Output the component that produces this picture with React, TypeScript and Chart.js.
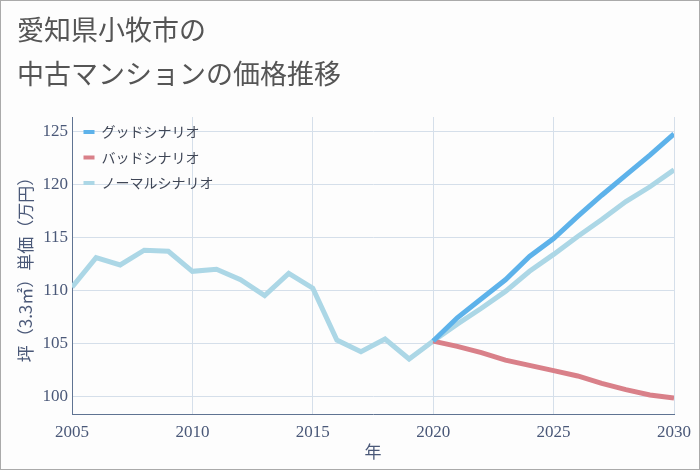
import React, { useEffect, useRef } from "react";
import { Chart, registerables } from "chart.js";

Chart.register(...registerables);

const titleLines = ["愛知県小牧市の", "中古マンションの価格推移"];
const years = [
  2005, 2006, 2007, 2008, 2009, 2010, 2011, 2012, 2013, 2014, 2015, 2016, 2017,
  2018, 2019, 2020, 2021, 2022, 2023, 2024, 2025, 2026, 2027, 2028, 2029, 2030,
];
const seriesNames = ["グッドシナリオ", "バッドシナリオ", "ノーマルシナリオ"];
const goodValues = [
  null, null, null, null, null, null, null, null, null, null, null, null, null,
  null, null, 105.2, 107.4, 109.2, 111.0, 113.2, 114.9, 117.0, 119.0, 120.9,
  122.8, 124.8,
];
const badValues = [
  null, null, null, null, null, null, null, null, null, null, null, null, null,
  null, null, 105.2, 104.7, 104.1, 103.4, 102.9, 102.4, 101.9, 101.2, 100.6,
  100.1, 99.8,
];
const normalValues = [
  110.3, 113.1, 112.4, 113.8, 113.7, 111.8, 112.0, 111.0, 109.5, 111.6, 110.2,
  105.3, 104.2, 105.4, 103.5, 105.2, 106.8, 108.3, 109.9, 111.8, 113.4, 115.1,
  116.7, 118.4, 119.8, 121.4,
];
const yTickValues = [100, 105, 110, 115, 120, 125];
const xTickValues = [2005, 2010, 2015, 2020, 2025, 2030];
const yTitle = "坪（3.3㎡）単価（万円）";
const xTitle = "年";

const colors = ["#5db2ea", "#d98089", "#acd7e6"];
const tickColor = "#4a5878";
const gridColor = "#d5dfea";
const axisColor = "#5f7392";
const sansFont = '"Noto Sans CJK JP", "Noto Sans", sans-serif';
const serifFont = '"Liberation Serif", "DejaVu Serif", serif';

const toPoints = (vals: (number | null)[]) =>
  years.map((y, i) => ({ x: y, y: vals[i] }));

const bgTitlePlugin = {
  id: "bgTitle",
  beforeDraw(chart: any) {
    const ctx = chart.ctx;
    ctx.save();
    ctx.fillStyle = "#fdfdfd";
    ctx.fillRect(0, 0, chart.width, chart.height);
    ctx.font = `27px ${sansFont}`;
    ctx.fillStyle = "#555555";
    ctx.textBaseline = "alphabetic";
    ctx.textAlign = "left";
    ctx.fillText(titleLines[0], 16, 39);
    ctx.fillText(titleLines[1], 16, 82.5);
    ctx.restore();
  },
  afterLayout(chart: any) {
    const lg = chart.legend;
    if (lg) {
      const h = lg.height;
      lg.top = chart.chartArea.top - 3.5;
      lg.bottom = lg.top + h;
      lg.left = chart.chartArea.left;
    }
  },
};

export default function App() {
  const ref = useRef<HTMLCanvasElement | null>(null);
  useEffect(() => {
    document.body.style.margin = "0";
    if (!ref.current) return;
    const datasets = [goodValues, badValues, normalValues].map((vals, i) => ({
      label: seriesNames[i],
      data: toPoints(vals),
      borderColor: colors[i],
      backgroundColor: colors[i],
      borderWidth: 5,
      pointRadius: 0,
      tension: 0,
      spanGaps: false,
    }));
    const chart = new Chart(ref.current, {
      type: "line",
      data: { datasets },
      plugins: [bgTitlePlugin],
      options: {
        animation: false,
        responsive: false,
        layout: { padding: { top: 116, right: 24, bottom: 0, left: 0 } },
        plugins: {
          title: { display: false },
          tooltip: { enabled: false },
          legend: {
            position: "chartArea",
            align: "start",
            labels: {
              boxWidth: 11,
              boxHeight: 4,
              padding: 11.5,
              color: "#3f4656",
              font: { family: sansFont, size: 14 },
              generateLabels: (chart: any) =>
                chart.data.datasets.map((ds: any, i: number) => ({
                  text: ds.label,
                  fillStyle: ds.borderColor,
                  strokeStyle: ds.borderColor,
                  lineWidth: 0,
                  hidden: false,
                  datasetIndex: i,
                  fontColor: "#3f4656",
                })),
            },
          },
        },
        scales: {
          x: {
            type: "linear",
            min: 2005,
            max: 2030,
            afterBuildTicks: (s: any) => {
              s.ticks = xTickValues.map((v) => ({ value: v }));
            },
            afterFit: (s: any) => {
              s.height = 55;
            },
            ticks: {
              color: tickColor,
              font: { family: serifFont, size: 17 },
              padding: 8,
              maxRotation: 0,
              callback: (v: any) => String(v),
            },
            grid: { color: gridColor, drawTicks: false },
            border: { color: axisColor, width: 1 },
            title: {
              display: true,
              text: xTitle,
              color: tickColor,
              font: { family: sansFont, size: 17 },
              padding: { top: 0, bottom: 7 },
            },
          },
          y: {
            type: "linear",
            min: 98.3,
            max: 126.4,
            afterBuildTicks: (s: any) => {
              s.ticks = yTickValues.map((v) => ({ value: v }));
            },
            afterFit: (s: any) => {
              s.width = 71;
            },
            ticks: {
              color: tickColor,
              font: { family: serifFont, size: 17 },
              padding: 4,
              callback: (v: any) => String(v),
            },
            grid: { color: gridColor, drawTicks: false },
            border: { color: axisColor, width: 1 },
            title: {
              display: true,
              text: yTitle,
              color: tickColor,
              font: { family: sansFont, size: 17 },
              padding: { top: 14, bottom: 0 },
            },
          },
        },
      },
    } as any);
    return () => chart.destroy();
  }, []);
  return (
    <div
      style={{
        width: 700,
        height: 470,
        border: "1px solid #aaaaaa",
        boxSizing: "border-box",
        background: "#fdfdfd",
      }}
    >
      <canvas ref={ref} width={698} height={468} style={{ display: "block" }} />
    </div>
  );
}
